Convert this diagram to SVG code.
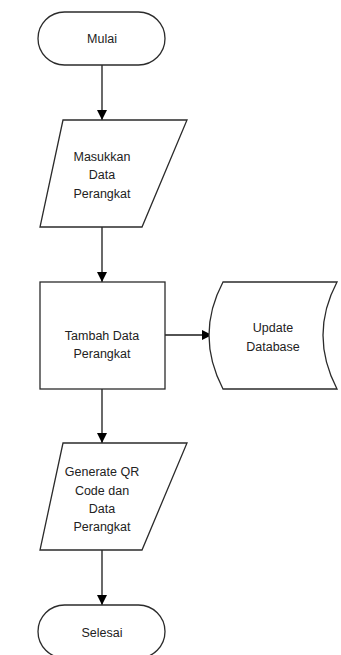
<svg xmlns="http://www.w3.org/2000/svg" width="341" height="655" viewBox="0 0 341 655">
  <style>
    .shape { fill: #ffffff; stroke: #2b2b2b; stroke-width: 1.3; }
    .edge { fill: none; stroke: #1a1a1a; stroke-width: 1.3; }
    .label { font-family: "Liberation Sans", Arial, sans-serif; font-size: 12.5px; fill: #222222; text-anchor: middle; }
  </style>
  <defs>
    <marker id="arrow" viewBox="0 0 10 10" refX="10" refY="5" markerWidth="10" markerHeight="10" markerUnits="userSpaceOnUse" orient="auto">
      <path d="M0,0 L10,5 L0,10 Z" fill="#000000"/>
    </marker>
  </defs>
  <rect width="341" height="655" fill="#ffffff"/>

  <g id="connectors">
    <line class="edge" x1="102" y1="65" x2="102" y2="120" marker-end="url(#arrow)"/>
    <line class="edge" x1="102" y1="227" x2="102" y2="282" marker-end="url(#arrow)"/>
    <line class="edge" x1="165" y1="335" x2="212" y2="335" marker-end="url(#arrow)"/>
    <line class="edge" x1="102" y1="389" x2="102" y2="443" marker-end="url(#arrow)"/>
    <line class="edge" x1="102" y1="550" x2="102" y2="605" marker-end="url(#arrow)"/>
  </g>

  <g id="mulai">
    <rect class="shape" x="38" y="12" width="127" height="53" rx="26.5" ry="26.5"/>
    <text class="label" x="102" y="43">Mulai</text>
  </g>

  <g id="masukkan-data">
    <polygon class="shape" points="63,120 187,120 142,227 40,227"/>
    <text class="label" x="102" y="161">Masukkan</text>
    <text class="label" x="102" y="179">Data</text>
    <text class="label" x="102" y="198">Perangkat</text>
  </g>

  <g id="tambah-data">
    <rect class="shape" x="40" y="282" width="125" height="107"/>
    <text class="label" x="102" y="340">Tambah Data</text>
    <text class="label" x="102" y="358">Perangkat</text>
  </g>

  <g id="update-database">
    <path class="shape" d="M223,282 L337,282 Q309,335 337,389 L223,389 Q195,335 223,282 Z"/>
    <text class="label" x="273" y="332">Update</text>
    <text class="label" x="273" y="351">Database</text>
  </g>

  <g id="generate-qr">
    <polygon class="shape" points="63,443 187,443 142,550 40,550"/>
    <text class="label" x="102" y="476">Generate QR</text>
    <text class="label" x="102" y="495">Code dan</text>
    <text class="label" x="102" y="513">Data</text>
    <text class="label" x="102" y="531">Perangkat</text>
  </g>

  <g id="selesai">
    <rect class="shape" x="38" y="605" width="127" height="53" rx="26.5" ry="26.5"/>
    <text class="label" x="102" y="637">Selesai</text>
  </g>
</svg>
